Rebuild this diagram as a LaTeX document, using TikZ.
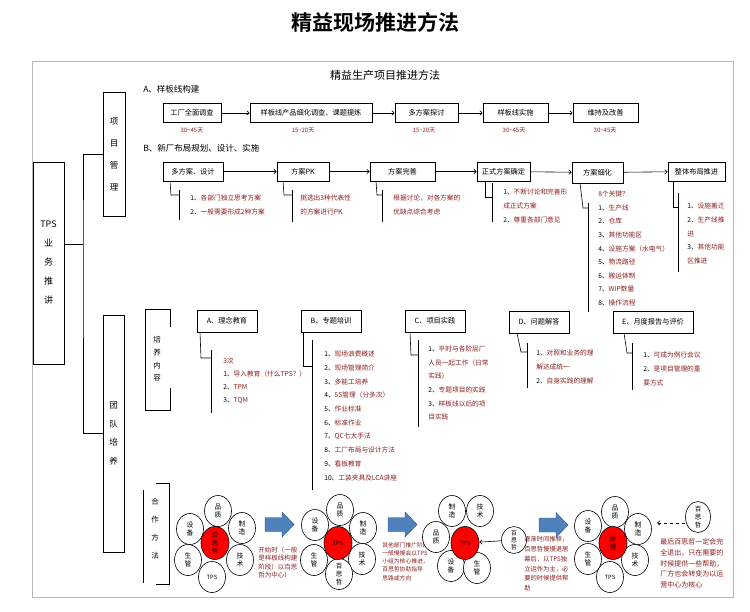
\documentclass[tikz,border=0pt]{standalone}
\usepackage{fontspec}
\setmainfont{Noto Sans CJK SC}[BoldFont={* Bold}]
\usetikzlibrary{arrows.meta,shapes.geometric}
\definecolor{dred}{HTML}{8B1E1E}
\definecolor{arrblue}{HTML}{4F81BD}
\definecolor{arrline}{HTML}{2F528F}
\newcommand\nm[1]{\textcolor{black}{#1}}
\newcommand\fs[2]{\fontsize{#1}{#2}\selectfont}
\tikzset{
  >={Straight Barb[length=2.5pt,width=4.5pt]},
  bx/.style={draw,minimum height=19pt,inner sep=1pt,font=\fs{7.2}{8}},
  dur/.style={text=dred,inner sep=0pt,font=\fs{6}{7}},
  lst/.style={anchor=north west,align=left,inner sep=0pt,text=dred,font=\fs{6.7}{13.7}},
  vt/.style={align=center,inner sep=0pt},
  pet/.style={ellipse,draw,fill=white,minimum width=27pt,minimum height=31pt,inner sep=0pt,align=center,font=\fs{6.8}{8.5}},
  hub/.style={pet,fill=red,minimum width=28pt,minimum height=33pt},
  note/.style={anchor=north west,align=left,inner sep=0pt,text=dred},
  bigarr/.pic={\filldraw[fill=arrblue,draw=arrline,line width=0.4pt] (0,-7) -- (17,-7) -- (17,-12.5) -- (29,0) -- (17,12.5) -- (17,7) -- (0,7) -- cycle;},
  every picture/.style={line width=0.6pt},
}

\begin{document}
\begin{tikzpicture}[x=1pt,y=-1pt]
\useasboundingbox (0,0) rectangle (750,611);
\node[font=\fs{21}{24}\bfseries] (title) at (375,22) {精益现场推进方法};
\draw[gray!55,line width=0.9pt] (32,61) rectangle (733,597);
\node[font=\fs{11}{13}] (sub) at (385,75) {精益生产项目推进方法};

% left tree
\node[draw,minimum width=31pt,minimum height=202pt,align=center,font=\fs{9}{19}] (tps) at (48.5,263) {TPS\\业\\务\\推\\讲};
\node[draw,minimum width=22pt,minimum height=124pt,align=center,font=\fs{8.5}{22}] (pm) at (114,154) {项\\目\\管\\理};
\node[draw,minimum width=21pt,minimum height=237pt,align=center,font=\fs{8.5}{18.7}] (team) at (113.5,433.5) {团\\队\\培\\养};
\coordinate (bus) at (83,244);
\draw (tps.east |- bus) -- (bus);
\draw (pm.west) -| (bus) |- (team.west);

% A: sample line
\node[anchor=west,inner sep=0pt,font=\fs{8.5}{10}] (ha) at (143,89) {A、样板线构建};
\node[bx,minimum width=58pt] (a1) at (192,113) {工厂全面调查};
\node[bx,minimum width=122pt] (a2) at (311,113) {样板线产品细化调查、课题提炼};
\node[bx,minimum width=63pt] (a3) at (426.5,113) {多方案探讨};
\node[bx,minimum width=65pt] (a4) at (515.5,113) {样板线实施};
\node[bx,minimum width=65pt] (a5) at (605.5,113) {维持及改善};
\draw[->] (a1) -- (a2);
\draw[->] (a2) -- (a3);
\draw[->] (a3) -- (a4);
\draw[->] (a4) -- (a5);
\node[dur] (d1) at (192,130) {30\textasciitilde45天};
\node[dur] (d2) at (303,130) {15\textasciitilde20天};
\node[dur] (d3) at (424,130) {15\textasciitilde20天};
\node[dur] (d4) at (514,130) {30\textasciitilde45天};
\node[dur] (d5) at (605,130) {30\textasciitilde45天};

% B: new plant layout
\node[anchor=west,inner sep=0pt,font=\fs{8.5}{10}] (hb) at (143,148) {B、新厂布局规划、设计、实施};
\node[bx,minimum width=60pt] (b1) at (193,171.5) {多方案、设计};
\node[bx,minimum width=52pt] (b2) at (303,171.5) {方案PK};
\node[bx,minimum width=65pt] (b3) at (402.5,171.5) {方案完善};
\node[bx,minimum width=53pt] (b4) at (503.5,171.5) {正式方案确定};
\node[bx,minimum width=51pt,minimum height=21pt] (b5) at (597.5,172.5) {方案细化};
\node[bx,minimum width=57pt] (b6) at (696.5,171.5) {整体布局推进};
\draw[->] (b1) -- (b2);
\draw[->] (b2) -- (b3);
\draw[->] (b3) -- (b4);
\draw[->] (b4) -- (b5);
\draw[->] (b5) -- (b6);
\draw (170,181) -- (171,195) -- (179,195); \draw (179,190) -- (179,220);
\draw (283,181) -- (284,195) -- (292,195); \draw (292,190) -- (292,222);
\draw (376,181) -- (377,195) -- (382,195); \draw (382,190) -- (382,222);
\draw (485,181) -- (485,197) -- (492,197); \draw (492,183) -- (492,222);
\draw (580,183) -- (583,208) -- (588,208); \draw (588,203) -- (588,312);
\draw (673,181) -- (673,207) -- (678,207); \draw (678,193) -- (678,272);
\node[lst] (lb1) at (190,194.8) {\nm{1、}各部门独立思考方案\\\nm{2、}一般需要形成2种方案};
\node[lst] (lb2) at (300,194.8) {挑选出3种代表性\\的方案进行PK};
\node[lst] (lb3) at (393,194.8) {根据讨论，对各方案的\\优缺点综合考虑};
\node[lst] (lb4) at (503,188.8) {\nm{1、}不断讨论和完善形\\成正式方案\\\nm{2、}尊重各部门意见};
\node[lst,font=\fs{6.7}{13.6}] (lb5) at (598,190.8) {8个关键？\\\nm{1、}生产线\\\nm{2、}仓库\\\nm{3、}其他功能区\\\nm{4、}设施方案（水电气）\\\nm{5、}物流路径\\\nm{6、}搬运体制\\\nm{7、}WIP数量\\\nm{8、}操作流程};
\node[lst] (lb6) at (687,202.8) {\nm{1、}设施搬迁\\\nm{2、}生产线推\\进\\\nm{3、}其他功能\\区推进};

% training contents
\draw (170,327) |- (145,309) |- (170,410) -- (170,388);
\node[vt,font=\fs{7.5}{12.7}] (pyt) at (157,359) {培\\养\\内\\容};
\node[bx,minimum width=60pt,minimum height=22pt] (c1) at (227,321) {A、理念教育};
\node[bx,minimum width=60pt,minimum height=22pt] (c2) at (331,321) {B、专题培训};
\node[bx,minimum width=60pt,minimum height=22pt] (c3) at (435,321) {C、项目实践};
\node[bx,minimum width=60pt,minimum height=22pt] (c4) at (539,322) {D、问题解答};
\node[bx,minimum width=80pt,minimum height=22pt] (c5) at (653,322) {E、月度报告与评价};
\draw (200,332) -- (201,358) -- (211,358); \draw (211,350) -- (211,413);
\draw (303,332) -- (303,366) -- (312,366); \draw (312,340) -- (312,490);
\draw (410,332) -- (411,355) -- (418,355); \draw (418,340) -- (418,427);
\draw (517,333) -- (521,352) -- (527,352); \draw (527,343) -- (527,388);
\draw (624,333) -- (627,353) -- (632,353); \draw (632,343) -- (632,390);
\node[lst,font=\fs{6.7}{13}] (lc1) at (223,357.8) {3次\\\nm{1、}导入教育（什么TPS？）\\\nm{2、}TPM\\\nm{3、}TQM};
\node[lst] (lc2) at (324,350.8) {\nm{1、}现场浪费概述\\\nm{2、}现场管理简介\\\nm{3、}多能工培养\\\nm{4、}5S管理（分多次）\\\nm{5、}作业标准\\\nm{6、}标准作业\\\nm{7、}QC七大手法\\\nm{8、}工厂布局与设计方法\\\nm{9、}看板教育\\\nm{10、}工装夹具及LCA讲座};
\node[lst,font=\fs{6.7}{13.6}] (lc3) at (428,345.8) {\nm{1、}平时与各阶层厂\\人员一起工作（日常\\实践）\\\nm{2、}专题项目的实践\\\nm{3、}样板线以后的项\\目实践};
\node[lst,font=\fs{6.7}{14}] (lc4) at (536,349.8) {\nm{1、}对照和业务的理\\解达成统一\\\nm{2、}自身实践的理解};
\node[lst,font=\fs{6.7}{14}] (lc5) at (643,351.8) {\nm{1、}可成为例行会议\\\nm{2、}是项目管理的重\\要方式};

% cooperation method
\draw (156,483) -| (169,584) -- (156,584);
\draw (143,490) -- (143,583);
\node[vt,font=\fs{7.5}{18}] (hzt) at (155,529) {合\\作\\方\\法};

\node[pet] (f1a) at (218,511) {品\\质};
\node[pet] (f1b) at (242,528) {制\\造};
\node[pet] (f1c) at (240,560) {技\\术};
\node[pet,font=\fs{5.8}{7}] (f1d) at (212,577) {TPS};
\node[pet] (f1e) at (188,560) {生\\管};
\node[pet] (f1f) at (190,529) {设\\备};
\node[hub,font=\fs{6.5}{8}] (f1) at (215,543) {百\\思\\哲};
\node[note,font=\fs{6.5}{8.2}] (n1) at (258,546.8) {开始时（一般\\是样板线构建\\阶段）以百思\\哲为中心）};
\pic at (265,524.5) {bigarr};

\node[pet] (f2a) at (340,510) {品\\质};
\node[pet] (f2b) at (363,528) {制\\造};
\node[pet] (f2c) at (362,559) {技\\术};
\node[pet,font=\fs{6.5}{8}] (f2d) at (339,574) {百\\思\\哲};
\node[pet] (f2e) at (314,560) {生\\管};
\node[pet] (f2f) at (315,525) {设\\备};
\node[hub,font=\fs{5.8}{7}] (f2) at (338,543) {TPS};
\node[note,font=\fs{5.8}{8.2}] (n2) at (382,542) {其他部门推广阶段，\\一般慢慢会以TPS\\小组为核心推进，\\百思哲协助指导\\思路或方向};
\pic at (388,524.5) {bigarr};

\node[pet] (f3a) at (452,511) {制\\造};
\node[pet] (f3b) at (480,511) {技\\术};
\node[pet] (f3c) at (436,537) {品\\质};
\node[pet] (f3d) at (451,566) {设\\备};
\node[pet] (f3e) at (477,568) {生\\管};
\node[hub,font=\fs{5.8}{7}] (f3) at (465,543) {TPS};
\node[pet,minimum width=25pt,minimum height=26pt,font=\fs{5.8}{7}] (s3) at (514,540) {百\\思\\哲};
\draw[->] (s3) -- (f3);
\node[note,font=\fs{6.3}{9.8}] (n3) at (524,536) {逐渐时间推移，\\百思哲慢慢退居\\幕后，以TPS独\\立运作为主，必\\要的时候提供帮\\助};
\pic at (539,525) {bigarr};

\node[pet] (f4a) at (615,512) {品\\质};
\node[pet] (f4b) at (638,529) {制\\造};
\node[pet] (f4c) at (635,560) {技\\术};
\node[pet,font=\fs{5.8}{7}] (f4d) at (610,577) {TPS};
\node[pet] (f4e) at (588,559) {生\\管};
\node[pet] (f4f) at (588,526) {设\\备};
\node[hub] (f4) at (613,543) {运\\营};
\node[pet,minimum width=25pt,minimum height=31pt,font=\fs{6.5}{8}] (s4) at (698,517) {百\\思\\哲};
\coordinate (d4) at (657,523);
\draw[dashed,->] (s4.west |- d4) -- (d4);
\node[note,font=\fs{7}{10.6}] (n4) at (660,538.7) {最后百思哲一定会完\\全退出，只在需要的\\时候提供一些帮助，\\厂方也会转变为以运\\营中心为核心};
\end{tikzpicture}
\end{document}
